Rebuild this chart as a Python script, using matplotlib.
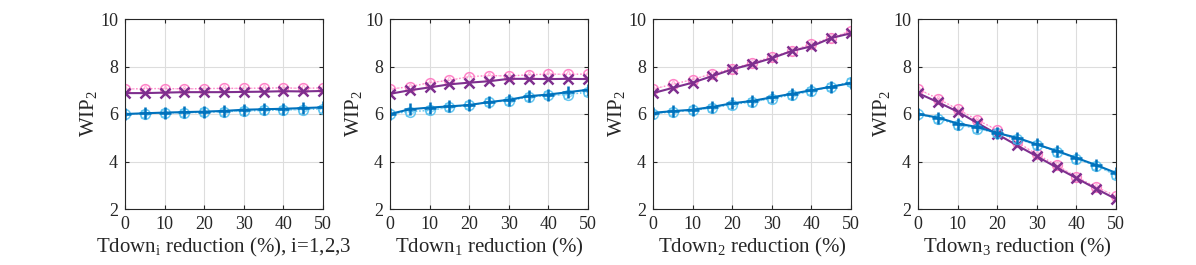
import matplotlib.pyplot as plt

plt.rcParams['font.family'] = 'Liberation Serif'
plt.rcParams['mathtext.fontset'] = 'custom'
plt.rcParams['mathtext.rm'] = 'Liberation Serif'
plt.rcParams['mathtext.it'] = 'Liberation Serif:italic'

x = [0, 5, 10, 15, 20, 25, 30, 35, 40, 45, 50]

# upper group (pink dotted = reference, purple solid = model)
pink = [
    [7.05, 7.07, 7.07, 7.06, 7.07, 7.08, 7.08, 7.09, 7.1, 7.08, 7.1],
    [7.05, 7.15, 7.32, 7.42, 7.57, 7.62, 7.6, 7.65, 7.68, 7.67, 7.68],
    [7.05, 7.25, 7.45, 7.7, 7.9, 8.15, 8.4, 8.65, 8.95, 9.2, 9.5],
    [7.05, 6.65, 6.2, 5.75, 5.32, 4.82, 4.3, 3.85, 3.35, 2.92, 2.55],
]
purple = [
    [6.88, 6.88, 6.9, 6.92, 6.92, 6.92, 6.93, 6.94, 6.96, 6.95, 6.97],
    [6.85, 7.0, 7.12, 7.25, 7.32, 7.38, 7.48, 7.48, 7.47, 7.48, 7.47],
    [6.88, 7.1, 7.32, 7.6, 7.88, 8.1, 8.35, 8.65, 8.85, 9.2, 9.4],
    [6.88, 6.5, 6.1, 5.62, 5.15, 4.68, 4.22, 3.75, 3.3, 2.85, 2.42],
]
# lower group (light blue dotted, blue solid)
lightblue = [
    [6.0, 6.02, 6.05, 6.05, 6.07, 6.1, 6.12, 6.15, 6.17, 6.18, 6.22],
    [6.0, 6.1, 6.15, 6.28, 6.38, 6.5, 6.55, 6.72, 6.78, 6.82, 6.92],
    [6.0, 6.1, 6.15, 6.25, 6.4, 6.5, 6.65, 6.8, 6.95, 7.15, 7.35],
    [6.0, 5.8, 5.55, 5.38, 5.2, 4.95, 4.7, 4.42, 4.12, 3.82, 3.42],
]
blue = [
    [6.0, 6.03, 6.06, 6.08, 6.1, 6.13, 6.18, 6.2, 6.22, 6.25, 6.28],
    [6.0, 6.2, 6.27, 6.32, 6.38, 6.5, 6.6, 6.75, 6.82, 6.92, 7.02],
    [6.05, 6.12, 6.18, 6.3, 6.45, 6.55, 6.7, 6.85, 7.0, 7.15, 7.3],
    [6.0, 5.85, 5.6, 5.45, 5.2, 5.0, 4.72, 4.45, 4.15, 3.85, 3.52],
]
xlabels = ['Tdown$_{\\mathrm{i}}$ reduction (%), i=1,2,3',
           'Tdown$_1$ reduction (%)',
           'Tdown$_2$ reduction (%)',
           'Tdown$_3$ reduction (%)']

fig = plt.figure(figsize=(11.96, 2.65), dpi=100)
lefts = [125, 390, 653, 918]

for k in range(4):
    ax = fig.add_axes([lefts[k] / 1196, 56 / 265, 198 / 1196, 190 / 265])
    ax.plot(x, pink[k], ':', color='#ff6fbf', marker='o', ms=7, mfc='none',
            mew=1.1, lw=1.0, alpha=0.85)
    ax.plot(x, pink[k], ':', color='#ff8fca', marker='^', ms=6, mfc='none',
            mew=0.9, lw=0.8, alpha=0.6)
    ax.plot(x, purple[k], '-', color='#7e2f8e', marker='x', ms=7.5, mew=1.8,
            lw=1.5)
    ax.plot(x, lightblue[k], ':', color='#4dbeee', marker='o', ms=7,
            mfc='none', mew=1.1, lw=1.0, alpha=0.85)
    ax.plot(x, lightblue[k], ':', color='#4dbeee', marker='>', ms=6,
            mfc='none', mew=0.9, lw=0.8, alpha=0.6)
    ax.plot(x, blue[k], '-', color='#0072bd', marker='+', ms=9, mew=1.8,
            lw=1.5)

    ax.set_xlim(0, 50)
    ax.set_ylim(2, 10)
    ax.set_xticks(range(0, 51, 10))
    ax.set_yticks(range(2, 11, 2))
    ax.grid(True, color='#dddddd', lw=0.8)
    ax.set_axisbelow(True)
    ax.tick_params(direction='in', length=3, labelsize=13, colors='#262626',
                   top=True, right=True, pad=5)
    for sp in ax.spines.values():
        sp.set_color('#262626')
        sp.set_linewidth(0.8)
    ax.set_ylabel('WIP$_2$', fontsize=15, color='#262626', labelpad=1)
    ax.set_xlabel(xlabels[k], fontsize=15, color='#262626', labelpad=2)

fig.savefig('out.png', dpi=100)
